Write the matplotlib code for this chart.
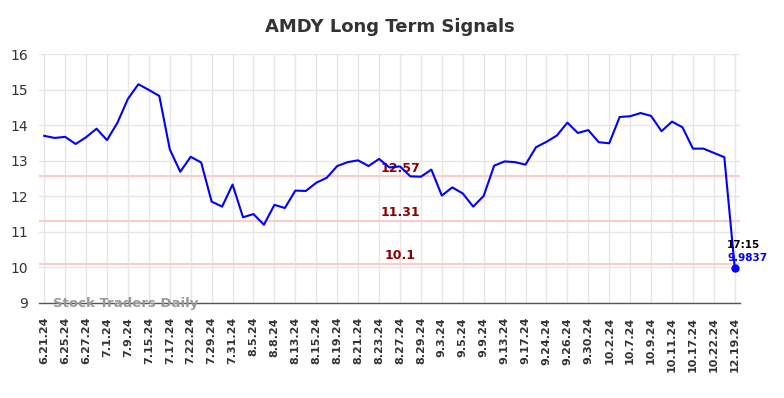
import matplotlib
matplotlib.use("Agg")
import matplotlib.pyplot as plt

title = "AMDY Long Term Signals"
tick_labels = ["6.21.24", "6.25.24", "6.27.24", "7.1.24", "7.9.24", "7.15.24", "7.17.24",
               "7.22.24", "7.29.24", "7.31.24", "8.5.24", "8.8.24", "8.13.24", "8.15.24",
               "8.19.24", "8.21.24", "8.23.24", "8.27.24", "8.29.24", "9.3.24", "9.5.24",
               "9.9.24", "9.13.24", "9.17.24", "9.24.24", "9.26.24", "9.30.24", "10.2.24",
               "10.7.24", "10.9.24", "10.11.24", "10.17.24", "10.22.24", "12.19.24"]
prices = [13.70, 13.64, 13.67, 13.47, 13.66, 13.90, 13.58, 14.07, 14.74, 15.15,
          14.99, 14.82, 13.32, 12.69, 13.11, 12.95, 11.85, 11.71, 12.33, 11.41,
          11.50, 11.20, 11.76, 11.67, 12.16, 12.15, 12.38, 12.52, 12.85, 12.96,
          13.01, 12.85, 13.05, 12.81, 12.84, 12.56, 12.55, 12.75, 12.02, 12.25,
          12.08, 11.71, 12.01, 12.86, 12.98, 12.96, 12.89, 13.38, 13.53, 13.71,
          14.07, 13.78, 13.86, 13.52, 13.49, 14.23, 14.25, 14.34, 14.26, 13.83,
          14.10, 13.94, 13.34, 13.34, 13.22, 13.10, 9.9837]
levels = [12.57, 11.31, 10.1]
level_labels = ["12.57", "11.31", "10.1"]
last_time = "17:15"
last_value = "9.9837"
watermark = "Stock Traders Daily"

fig = plt.figure(figsize=(7.84, 3.98), dpi=100)
ax = fig.add_axes([39/784, 1-303/398, (740-39)/784, (303-54)/398])

xs = list(range(len(prices)))
ax.set_xlim(-0.5, len(prices) - 0.5)
ax.set_ylim(9, 16)

ax.grid(True, color="#e6e6e6", linewidth=1)
ax.set_axisbelow(True)

for lv, lb in zip(levels, level_labels):
    ax.axhline(lv, color="#ffcccc", linewidth=1.5, zorder=1)
    ax.annotate(lb, xy=(34, lv), xytext=(0, 1), textcoords="offset points",
                ha="center", va="bottom", color="#8b0000", fontsize=9, fontweight="bold")

ax.plot(xs, prices, color="#0000ff", linewidth=1.5, zorder=3)
ax.plot(xs[-1], prices[-1], "o", color="#0000ff", markersize=5, zorder=4)
ax.annotate(last_time, xy=(xs[-1], prices[-1]), xytext=(6, 13), textcoords="offset points",
            ha="center", va="bottom", fontsize=7.5, fontweight="bold", color="black")
ax.annotate(last_value, xy=(xs[-1], prices[-1]), xytext=(9, 3.5), textcoords="offset points",
            ha="center", va="bottom", fontsize=7.5, fontweight="bold", color="#0000ff")

ax.text(0.02, 0.0, watermark, transform=ax.transAxes, ha="left", va="center",
        fontsize=9.5, fontweight="bold", color="#999999", zorder=5)

ax.set_xticks(xs[::2])
ax.set_xticklabels(tick_labels, rotation=90, fontsize=8, fontweight="bold", color="#333333")
ax.set_yticks(range(9, 17))
ax.tick_params(axis="y", labelsize=10, colors="#333333", length=0, pad=8)
ax.tick_params(axis="x", length=0, pad=10)

for s in ["top", "right", "left"]:
    ax.spines[s].set_visible(False)
ax.spines["bottom"].set_color("#555555")
ax.spines["bottom"].set_linewidth(1)

fig.suptitle(title, x=(39+740)/2/784, y=1-27/398, va="center", fontsize=13,
             fontweight="bold", color="#333333")

fig.savefig("out.png", dpi=100, facecolor="white")
